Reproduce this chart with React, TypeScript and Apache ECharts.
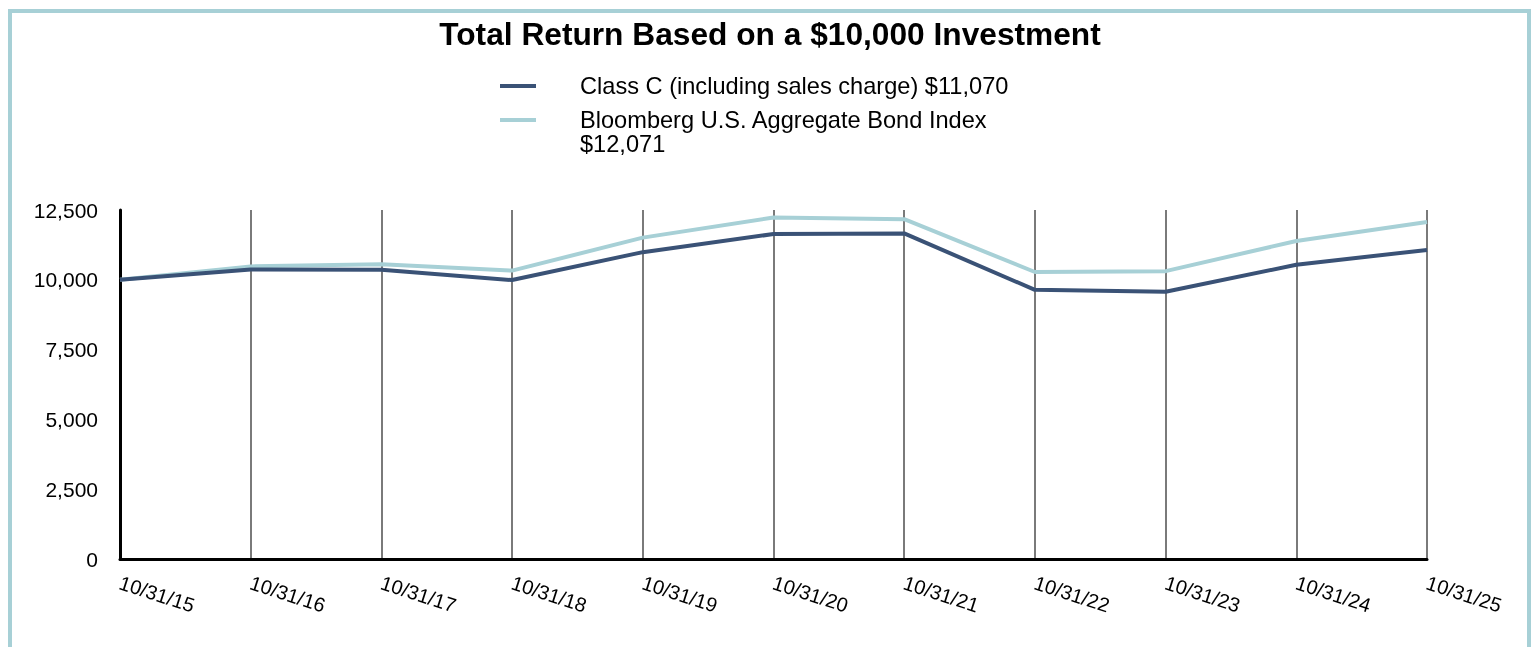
import React, { useEffect, useRef } from "react";
import * as echarts from "echarts";

const categories = ["10/31/15", "10/31/16", "10/31/17", "10/31/18", "10/31/19", "10/31/20", "10/31/21", "10/31/22", "10/31/23", "10/31/24", "10/31/25"];
const classCName = "Class C (including sales charge) $11,070";
const indexName = "Bloomberg U.S. Aggregate Bond Index\n$12,071";
const classCValues = [10000, 10370, 10360, 9990, 10990, 11640, 11660, 9640, 9570, 10540, 11070];
const indexValues = [10000, 10480, 10560, 10330, 11510, 12230, 12170, 10280, 10310, 11390, 12071];
const yTicks = [0, 2500, 5000, 7500, 10000, 12500];

const FONT = "'Liberation Sans', Arial, Helvetica, sans-serif";
const DARK = "#3a5276";
const LIGHT = "#a7d0d6";

export default function App() {
  const ref = useRef<HTMLDivElement>(null);
  useEffect(() => {
    if (!ref.current) return;
    const chart = echarts.init(ref.current, undefined, { renderer: "svg" });
    const legendText = { fontFamily: FONT, fontSize: 23.6, color: "#000", lineHeight: 24, padding: [0, 0, 0, 39] };
    const legendBase = {
      left: 500,
      padding: 0,
      orient: "vertical",
      itemWidth: 36,
      itemHeight: 4,
      icon: "rect",
      selectedMode: false,
      textStyle: legendText,
    };
    chart.setOption({
      animation: false,
      backgroundColor: "transparent",
      textStyle: { fontFamily: FONT },
      title: {
        text: "Total Return Based on a $10,000 Investment",
        left: 765,
        textAlign: "center",
        top: 13,
        textStyle: { fontFamily: FONT, fontSize: 31.7, fontWeight: "bold", color: "#000" },
      },
      legend: [
        { ...legendBase, top: 74, data: [classCName] },
        { ...legendBase, top: 84, data: [indexName], formatter: (n: string) => " \n" + n },
      ],
      grid: { left: 120, right: 104, top: 210, bottom: 88, containLabel: false },
      xAxis: {
        type: "category",
        data: categories,
        boundaryGap: false,
        axisLine: { show: true, lineStyle: { color: "#000", width: 3 } },
        axisTick: { show: false },
        axisLabel: {
          rotate: -18,
          margin: 23,
          fontFamily: FONT,
          fontSize: 20,
          color: "#000",
          interval: 0,
        },
        splitLine: { show: true, lineStyle: { color: "#7a7a7a", width: 2 } },
      },
      yAxis: {
        type: "value",
        min: yTicks[0],
        max: yTicks[yTicks.length - 1],
        interval: 2500,
        axisLine: { show: true, lineStyle: { color: "#000", width: 3 } },
        axisTick: { show: false },
        splitLine: { show: false },
        axisLabel: {
          margin: 22,
          fontFamily: FONT,
          fontSize: 21,
          color: "#000",
          formatter: (v: number) => v.toLocaleString("en-US"),
        },
      },
      series: [
        {
          name: indexName,
          type: "line",
          data: indexValues,
          symbol: "none",
          lineStyle: { color: LIGHT, width: 4 },
          itemStyle: { color: LIGHT },
          z: 3,
        },
        {
          name: classCName,
          type: "line",
          data: classCValues,
          symbol: "none",
          lineStyle: { color: DARK, width: 4 },
          itemStyle: { color: DARK },
          z: 4,
        },
      ],
    });
    return () => chart.dispose();
  }, []);
  return (
    <>
      <div
        style={{
          position: "fixed",
          left: 8,
          top: 9,
          width: 1523,
          height: 700,
          boxSizing: "border-box",
          border: `4px solid ${LIGHT}`,
        }}
      />
      <div ref={ref} style={{ position: "fixed", left: 0, top: 0, width: 1531, height: 647 }} />
    </>
  );
}
